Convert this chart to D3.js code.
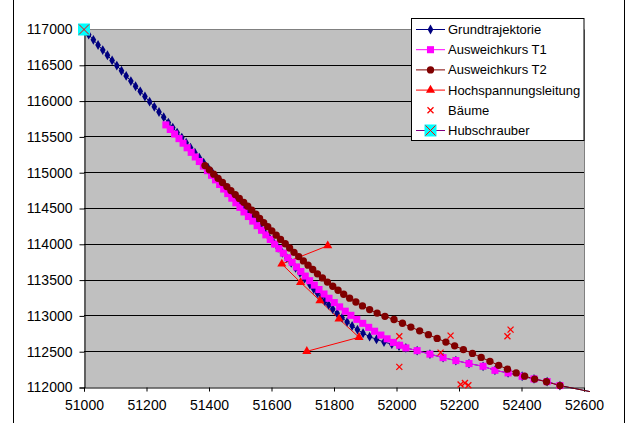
<!DOCTYPE html>
<html>
<head>
<meta charset="utf-8">
<script src="https://cdn.jsdelivr.net/npm/d3@7"></script>
<style>
  body { margin: 0; background: #fff; }
  svg { display: block; font-family: "Liberation Sans", Arial, sans-serif; }
</style>
</head>
<body>
<svg id="chart" width="628" height="423"></svg>
<script>
// axis ticks
const xTicks = [51000, 51200, 51400, 51600, 51800, 52000, 52200, 52400, 52600];
const yTicks = [112000, 112500, 113000, 113500, 114000, 114500, 115000, 115500, 116000, 116500, 117000];

const seriesNames = ['Grundtrajektorie', 'Ausweichkurs T1', 'Ausweichkurs T2', 'Hochspannungsleitung', 'Bäume', 'Hubschrauber'];

// [x, y] pairs
const grund = [
  [51000,117000],[51015,116928],[51030,116856],[51045,116784],[51060,116712],[51075,116640],
  [51090,116568],[51105,116496],[51120,116424],[51135,116352],[51150,116280],[51165,116208],
  [51180,116136],[51195,116064],[51210,115992],[51225,115920],[51240,115848],[51255,115776],
  [51270,115700],[51284,115630],[51298,115560],[51313,115490],[51327,115420],[51341,115350],
  [51355,115280],[51369,115210],[51383,115140],[51397,115070],[51411,115000],[51425,114930],
  [51439,114860],[51453,114790],[51467,114720],[51481,114650],[51495,114580],[51509,114510],
  [51523,114440],[51537,114370],[51551,114300],[51565,114230],[51579,114160],[51593,114090],
  [51607,114020],[51621,113950],[51635,113880],[51649,113810],[51663,113740],[51677,113670],
  [51691,113600],[51706,113520],[51723,113436],[51735,113376],[51747,113318],[51759,113262],
  [51771,113208],[51783,113154],[51796,113096],[51810,113036],[51826,112974],[51842,112916],
  [51858,112860],[51875,112808],[51893,112758],[51914,112710],[51936,112672],[51960,112636],
  [51985,112605],[52008,112578],[52030,112553],[52066,112515],[52107,112466],[52149,112417],
  [52190,112376],[52232,112334],[52277,112296],[52315,112240],[52357,112204],[52402,112157],
  [52440,112120],[52482,112083],[52523,112027],[52619,111943]
];

const kursT1 = [
  [51262,115668],[51276,115604],[51290,115540],[51304,115476],[51317,115412],[51330,115348],
  [51343,115284],[51356,115220],[51369,115156],[51382,115092],[51395,115028],[51408,114964],
  [51421,114900],[51434,114836],[51447,114772],[51460,114708],[51473,114644],[51486,114580],
  [51499,114516],[51512,114452],[51526,114388],[51540,114324],[51554,114260],[51568,114196],
  [51582,114132],[51596,114068],[51610,114004],[51624,113940],[51638,113876],[51652,113812],
  [51666,113748],[51680,113684],[51694,113620],[51708,113556],[51722,113492],[51737,113430],
  [51752,113368],[51768,113306],[51784,113246],[51801,113186],[51818,113126],[51836,113066],
  [51854,113008],[51873,112952],[51892,112896],[51911,112840],[51930,112786],[51950,112732],
  [51970,112680],[51990,112630],[52010,112590],[52030,112553],[52066,112515],[52107,112466],
  [52149,112417],[52190,112376],[52232,112334],[52277,112296],[52315,112240],[52357,112204],
  [52402,112157],[52440,112120],[52482,112083],[52523,112027]
];

const kursT2 = [
  [51387,115100],[51401,115040],[51415,114980],[51429,114922],[51443,114863],[51457,114806],
  [51470,114750],[51484,114694],[51497,114640],[51511,114586],[51524,114532],[51537,114478],
  [51550,114420],[51562,114362],[51575,114304],[51588,114246],[51601,114188],[51615,114128],
  [51629,114068],[51644,114008],[51658,113948],[51672,113888],[51687,113828],[51702,113768],
  [51717,113708],[51732,113648],[51747,113588],[51763,113530],[51779,113472],[51796,113414],
  [51813,113358],[51831,113302],[51850,113248],[51870,113194],[51891,113140],[51914,113088],
  [51938,113040],[51963,112994],[51992,112950],[52019,112897],[52046,112844],[52074,112791],
  [52102,112738],[52130,112686],[52158,112634],[52186,112582],[52214,112530],[52243,112476],
  [52271,112420],[52299,112366],[52327,112310],[52355,112256],[52383,112204],[52410,112158],
  [52442,112118],[52480,112080],[52523,112027],[52619,111943]
];

const leitung = [
  [51780,113980],[51633,113725],[51693,113468],[51755,113213],[51816,112957],[51880,112701],[51713,112505]
];

const baeume = [
  [52009,112715],[52173,112724],[52141,112487],[52009,112288],[52355,112715],[52365,112808],
  [52205,112041],[52219,112064],[52230,112031]
];

const hubschrauber = [[51000,117000]];

const svg = d3.select('#chart');
const W = 628, H = 423;

const x = d3.scaleLinear().domain([51000, 52600]).range([84, 584]);
const y = d3.scaleLinear().domain([112000, 117000]).range([387.5, 29.5]);
const crisp = v => Math.floor(v) + 0.5;

// outer chart frame
svg.append('rect')
  .attr('x', 13.5).attr('y', -5)
  .attr('width', 611).attr('height', H + 10)
  .attr('fill', '#fff').attr('stroke', '#000');

// plot area
svg.append('rect')
  .attr('x', x(51000)).attr('y', y(117000))
  .attr('width', x(52600) - x(51000)).attr('height', y(112000) - y(117000))
  .attr('fill', '#c0c0c0');

// gridlines
svg.append('g').selectAll('line')
  .data(yTicks.slice(1))
  .join('line')
  .attr('x1', x(51000)).attr('x2', x(52600))
  .attr('y1', d => crisp(y(d))).attr('y2', d => crisp(y(d)))
  .attr('stroke', d => d === 117000 ? '#808080' : '#000')
  .attr('stroke-width', 1);

// right border of plot
svg.append('line')
  .attr('x1', crisp(x(52600))).attr('x2', crisp(x(52600)))
  .attr('y1', y(117000)).attr('y2', y(112000))
  .attr('stroke', '#808080');

// axes
const xAxis = d3.axisBottom(x).tickValues(xTicks).tickSize(4).tickPadding(6).tickFormat(d3.format('d'));
const yAxis = d3.axisLeft(y).tickValues(yTicks).tickSize(5).tickPadding(7).tickFormat(d3.format('d'));

const gx = svg.append('g').attr('transform', `translate(0,${crisp(y(112000))})`).call(xAxis);
const gy = svg.append('g').attr('transform', `translate(${crisp(x(51000))},0)`).call(yAxis);
[gx, gy].forEach(g => {
  g.select('.domain').attr('stroke', '#000');
  g.selectAll('.tick line').attr('stroke', '#000');
  g.selectAll('text').attr('fill', '#000').style('font-size', '14px')
    .style('font-family', '"Liberation Sans", Arial, sans-serif');
});
gx.selectAll('text').attr('dy', '0.9em');

// series lines
const line = d3.line().x(d => x(d[0])).y(d => y(d[1]));
const inside = d => d[0] >= 51000 && d[0] <= 52600 && d[1] >= 112000 && d[1] <= 117000;

const lines = svg.append('g').attr('fill', 'none');
lines.append('path').datum(grund).attr('d', line).attr('stroke', '#000080').attr('stroke-width', 1);
lines.append('path').datum(leitung).attr('d', line).attr('stroke', '#ff0000').attr('stroke-width', 1);
lines.append('path').datum(kursT1).attr('d', line).attr('stroke', '#ff00ff').attr('stroke-width', 1);
lines.append('path').datum(kursT2).attr('d', line).attr('stroke', '#800000').attr('stroke-width', 1);

// marker shapes
const diamond = d3.symbol().type(d3.symbolDiamond).size(28);
const square = d3.symbol().type(d3.symbolSquare).size(50);
const circle = d3.symbol().type(d3.symbolCircle).size(42);
const triangle = d3.symbol().type(d3.symbolTriangle).size(36);

function drawMarkers(data, sym, color) {
  svg.append('g').selectAll('path')
    .data(data.filter(inside))
    .join('path')
    .attr('d', sym)
    .attr('transform', d => `translate(${x(d[0])},${y(d[1])})`)
    .attr('fill', color);
}
drawMarkers(grund, diamond, '#000080');
drawMarkers(kursT1, square, '#ff00ff');
drawMarkers(kursT2, circle, '#800000');
drawMarkers(leitung, triangle, '#ff0000');

function drawCross(g, cx, cy, r, color, w) {
  g.append('path')
    .attr('d', `M${cx - r},${cy - r}L${cx + r},${cy + r}M${cx - r},${cy + r}L${cx + r},${cy - r}`)
    .attr('stroke', color).attr('stroke-width', w).attr('fill', 'none');
}

const trees = svg.append('g');
baeume.forEach(d => drawCross(trees, x(d[0]), y(d[1]), 3, '#ff0000', 1.3));

function drawHeli(g, cx, cy) {
  g.append('rect').attr('x', cx - 6).attr('y', cy - 6).attr('width', 12).attr('height', 12).attr('fill', '#00ffff');
  drawCross(g, cx, cy, 5, '#ff0000', 1);
}
const heli = svg.append('g');
hubschrauber.forEach(d => drawHeli(heli, x(d[0]), y(d[1])));

// legend
const legend = svg.append('g');
legend.append('rect')
  .attr('x', 411.5).attr('y', 18.5).attr('width', 172.5).attr('height', 122)
  .attr('fill', '#fff').attr('stroke', '#000');

const legendColors = ['#000080', '#ff00ff', '#800000', '#ff0000', null, '#800080'];
seriesNames.forEach((name, i) => {
  const cy = 29.5 + i * 20.2;
  const row = legend.append('g');
  if (legendColors[i]) {
    row.append('line').attr('x1', 416).attr('x2', 445).attr('y1', cy).attr('y2', cy)
      .attr('stroke', legendColors[i]);
  }
  const mx = 430.5;
  if (i === 0) row.append('path').attr('d', diamond).attr('transform', `translate(${mx},${cy})`).attr('fill', '#000080');
  if (i === 1) row.append('path').attr('d', square).attr('transform', `translate(${mx},${cy})`).attr('fill', '#ff00ff');
  if (i === 2) row.append('path').attr('d', circle).attr('transform', `translate(${mx},${cy})`).attr('fill', '#800000');
  if (i === 3) row.append('path').attr('d', triangle).attr('transform', `translate(${mx},${cy})`).attr('fill', '#ff0000');
  if (i === 4) drawCross(row, mx, cy, 3, '#ff0000', 1.3);
  if (i === 5) drawHeli(row, mx, cy);
  row.append('text')
    .attr('x', 448).attr('y', cy + 4.5)
    .style('font-size', '13px')
    .attr('fill', '#000')
    .text(name);
});
</script>
</body>
</html>
